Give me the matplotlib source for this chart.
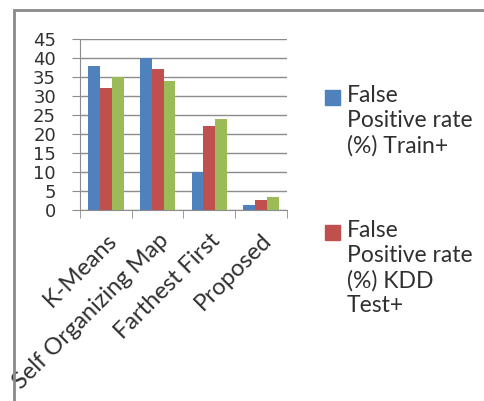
import matplotlib
matplotlib.use("Agg")
import matplotlib.pyplot as plt
import matplotlib.patches as mpatches
import numpy as np

categories = ["K-Means", "Self Organizing Map", "Farthest First", "Proposed"]
series_names = ["False\nPositive rate\n(%) Train+", "False\nPositive rate\n(%) KDD\nTest+", "False Positive rate (%) KDD Test-21"]
train_plus = [38, 40, 10, 1.3]
kdd_test_plus = [32, 37, 22, 2.6]
third_series = [35, 34, 24, 3.5]
yticks = [0, 5, 10, 15, 20, 25, 30, 35, 40, 45]

colors = ["#4F81BD", "#C0504D", "#9BBB59"]
plt.rcParams['font.family'] = ['Lato', 'DejaVu Sans']

fig = plt.figure(figsize=(4.85, 4.01), dpi=100)
fig.patch.set_facecolor("white")

ax = fig.add_axes([80/485, 1-210/401, (287-80)/485, (210-39)/401])
x = np.arange(len(categories))
w = 0.23
for i, vals in enumerate([train_plus, kdd_test_plus, third_series]):
    ax.bar(x + (i-1)*w, vals, width=w, color=colors[i], zorder=3)

ax.set_xlim(-0.5, len(categories)-0.5)
ax.set_ylim(0, 45)
ax.set_yticks(yticks)
ax.set_yticklabels([str(t) for t in yticks], fontsize=13, color="#303030",
                   family=['DejaVu Sans'])
ax.yaxis.grid(True, color="#8c8c8c", linewidth=1, zorder=0)
ax.tick_params(axis='y', length=5.8, color="#8c8c8c", pad=11.5)

ax.set_xticks(x)
ax.set_xticklabels(categories, rotation=45, ha='right', va='top', rotation_mode='anchor',
                   fontsize=17, color="#303030")
ax.tick_params(axis='x', which='major', length=0, pad=14)
ax.set_xticks(np.arange(-0.5, len(categories), 1.0), minor=True)
ax.tick_params(axis='x', which='minor', length=5.8, color="#8c8c8c")

for s in ["top", "right"]:
    ax.spines[s].set_visible(False)
for s in ["left", "bottom"]:
    ax.spines[s].set_color("#8c8c8c")

# legend (manual layout: marker aligned with first line of each entry)
leg_entries = [(0, 88), (1, 223)]
for idx, ytop in leg_entries:
    sq = mpatches.Rectangle((325/485, 1-(ytop+17)/401), 15/485, 15/401,
                            transform=fig.transFigure, color=colors[idx])
    fig.patches.append(sq)
    fig.text(347/485, 1-(ytop-3)/401, series_names[idx], fontsize=16.5, color="#303030",
             va='top', ha='left', linespacing=1.22)

border = mpatches.Rectangle((14/485, -0.05), 1.1, 1-10/401+0.05, transform=fig.transFigure,
                            fill=False, edgecolor="#8a8a8a", linewidth=2, clip_on=False)
fig.patches.append(border)

fig.savefig("out.png", dpi=100)
